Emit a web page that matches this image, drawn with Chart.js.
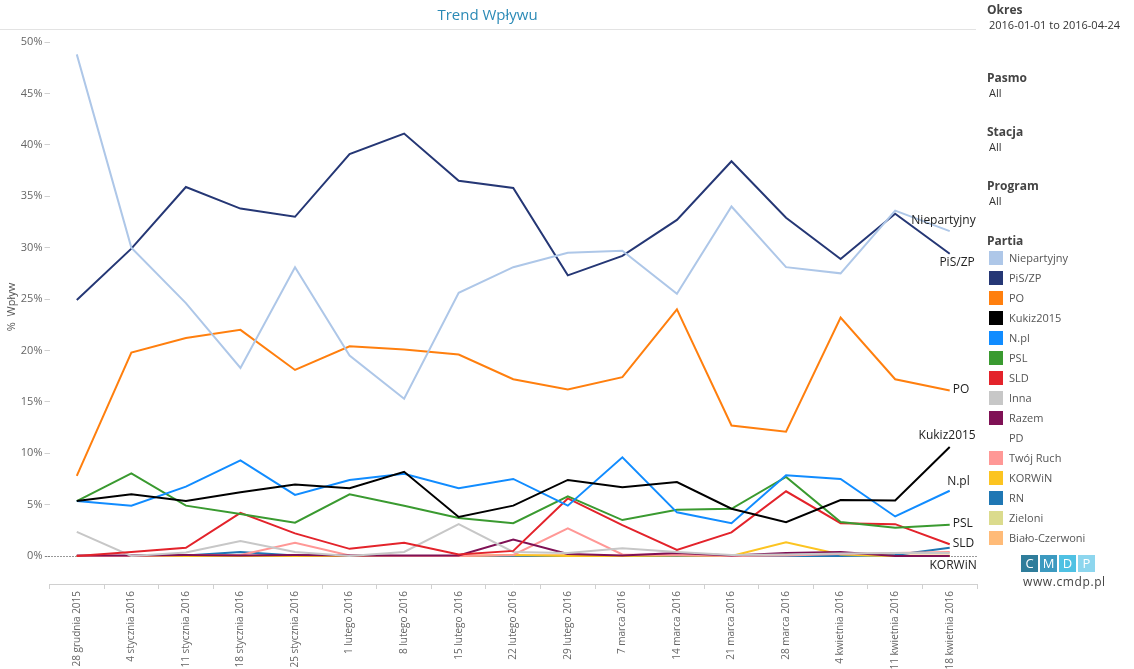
<!DOCTYPE html>
<html>
<head>
<meta charset="utf-8">
<script src="https://cdn.jsdelivr.net/npm/chart.js@4.4.0/dist/chart.umd.min.js"></script>
<style>
  html, body { margin: 0; padding: 0; background: #fff; }
  body { width: 1134px; height: 669px; position: relative; overflow: hidden; font-family: "Open Sans", "Noto Sans", sans-serif; }
  #wrap { position: absolute; left: 0; top: 0; width: 980px; height: 669px; }
  #title { position: absolute; left: 0; width: 975px; top: 4px; text-align: center; font-size: 15px; color: #2b8ab6; }
  #rule { position: absolute; left: 0; top: 29px; width: 976px; height: 1px; background: #e3e3e3; }
  #panel { position: absolute; left: 987px; top: 0; width: 147px; color: #444; }
  .h { position: absolute; left: 0; font-size: 12px; font-weight: bold; color: #444; }
  .v { position: absolute; left: 2px; font-size: 11px; color: #333; }
  .li { position: absolute; left: 2px; height: 14px; font-size: 11px; color: #555; white-space: nowrap; }
  .sw { position: absolute; left: 0; top: 0; width: 14px; height: 14px; }
  .lt { position: absolute; left: 20px; top: -2px; line-height: 17px; }
  #logo { position: absolute; left: 34px; top: 555px; }
  .lb { position: absolute; top: 0; width: 17px; height: 17px; color: #fff; font-size: 13px; line-height: 17px; text-align: center; }
  #url { position: absolute; left: 36px; top: 573px; font-size: 12px; color: #444; letter-spacing: 0.6px; }
</style>
</head>
<body>
<div id="wrap"><canvas id="c" width="980" height="669"></canvas></div>
<div id="title">Trend Wpływu</div>
<div id="rule"></div>
<div id="panel">
  <div class="h" style="top:1px">Okres</div>
  <div class="v" style="top:17px">2016-01-01 to 2016-04-24</div>
  <div class="h" style="top:69px">Pasmo</div>
  <div class="v" style="top:85px">All</div>
  <div class="h" style="top:123px">Stacja</div>
  <div class="v" style="top:139px">All</div>
  <div class="h" style="top:177px">Program</div>
  <div class="v" style="top:193px">All</div>
  <div class="h" style="top:232px">Partia</div>
  <div id="legend"></div>
  <div id="logo">
    <div class="lb" style="left:0;background:#2f7d9b">C</div>
    <div class="lb" style="left:19px;background:#3c9ac0">M</div>
    <div class="lb" style="left:38px;background:#4fc1e3">D</div>
    <div class="lb" style="left:57px;background:#8dd6ee">P</div>
  </div>
  <div id="url">www.cmdp.pl</div>
</div>
<script>
const categories = ["28 grudnia 2015","4 stycznia 2016","11 stycznia 2016","18 stycznia 2016","25 stycznia 2016","1 lutego 2016","8 lutego 2016","15 lutego 2016","22 lutego 2016","29 lutego 2016","7 marca 2016","14 marca 2016","21 marca 2016","28 marca 2016","4 kwietnia 2016","11 kwietnia 2016","18 kwietnia 2016"];
const yTicks = [0, 5, 10, 15, 20, 25, 30, 35, 40, 45, 50];

const seriesNames = ["Niepartyjny","PiS/ZP","PO","Kukiz2015","N.pl","PSL","SLD","Inna","Razem","PD","Twój Ruch","KORWiN","RN","Zieloni","Biało-Czerwoni"];
const seriesColors = ["#aec7e8","#253775","#ff7f0e","#000000","#118cff","#3a9a30","#e3232b","#c7c7c7","#7f1155","rgba(255,255,255,0)","#ff9896","#fcc421","#1f77b4","#dbdb8d","#ffbb78"];

const niepartyjny = [48.8, 30.0, 24.6, 18.3, 28.1, 19.5, 15.3, 25.6, 28.1, 29.5, 29.7, 25.5, 34.0, 28.1, 27.5, 33.6, 31.6];
const pisZp       = [24.9, 29.9, 35.9, 33.8, 33.0, 39.1, 41.1, 36.5, 35.8, 27.3, 29.2, 32.7, 38.4, 32.9, 28.9, 33.3, 29.4];
const po          = [7.8, 19.8, 21.2, 22.0, 18.1, 20.4, 20.1, 19.6, 17.2, 16.2, 17.4, 24.0, 12.7, 12.1, 23.2, 17.2, 16.1];
const kukiz2015   = [5.35, 6.0, 5.35, 6.2, 6.95, 6.6, 8.2, 3.8, 4.9, 7.4, 6.7, 7.2, 4.6, 3.3, 5.45, 5.4, 10.6];
const npl         = [5.35, 4.9, 6.75, 9.3, 5.95, 7.4, 8.0, 6.6, 7.5, 4.9, 9.6, 4.25, 3.2, 7.85, 7.5, 3.85, 6.35];
const psl         = [5.35, 8.05, 4.9, 4.1, 3.25, 6.0, 4.9, 3.7, 3.2, 5.8, 3.5, 4.5, 4.6, 7.7, 3.3, 2.75, 3.05];
const sld         = [0, 0.4, 0.8, 4.2, 2.2, 0.7, 1.3, 0.15, 0.5, 5.6, 3.0, 0.6, 2.3, 6.3, 3.2, 3.1, 1.15];
const inna        = [2.35, 0, 0.35, 1.45, 0.4, 0, 0.4, 3.1, 0.4, 0.3, 0.75, 0.4, 0.1, 0.15, 0.25, 0.3, 0.3];
const razem       = [0.05, 0.05, 0.1, 0.05, 0.1, 0.05, 0.05, 0.05, 1.6, 0.2, 0.05, 0.3, 0.05, 0.3, 0.4, 0, 0];
const pd          = [0, 0, 0, 0, 0, 0, 0, 0, 0, 0, 0, 0, 0, 0, 0, 0, 0];
const twojRuch    = [0, 0, 0.1, 0.1, 1.3, 0.05, 0, 0, 0.1, 2.7, 0.15, 0.1, 0, 0.05, 0.2, 0.3, 0.4];
const korwin      = [0, 0, 0, 0, 0, 0, 0, 0, 0.1, 0, 0, 0.05, 0, 1.35, 0.15, 0, 0];
const rn          = [0, 0, 0.05, 0.4, 0.05, 0, 0, 0, 0, 0, 0, 0, 0, 0, 0, 0.1, 0.8];
const zieloni     = [0, 0, 0, 0, 0, 0, 0, 0, 0, 0, 0, 0, 0, 0, 0, 0, 0];
const bialoCzerwoni = [0, 0, 0.05, 0, 0.05, 0, 0, 0, 0.05, 0.1, 0, 0, 0, 0, 0.05, 0.05, 0.05];

const seriesData = [niepartyjny, pisZp, po, kukiz2015, npl, psl, sld, inna, razem, pd, twojRuch, korwin, rn, zieloni, bialoCzerwoni];

// end-of-line label placement (style only)
const endLabels = {
  "Niepartyjny": {dx: 26, dy: -11, align: "right"},
  "PiS/ZP":      {dx: 25, dy: 9,   align: "right"},
  "PO":          {dx: 3,  dy: -1,  align: "left"},
  "Kukiz2015":   {dx: 26, dy: -11, align: "right"},
  "N.pl":        {dx: 20, dy: -9,  align: "right"},
  "PSL":         {dx: 3,  dy: -1,  align: "left"},
  "SLD":         {dx: 3,  dy: -1,  align: "left"},
  "KORWiN":      {dx: 27, dy: 10,  align: "right"}
};

// HTML legend
const leg = document.getElementById('legend');
seriesNames.forEach((n, i) => {
  const d = document.createElement('div');
  d.className = 'li';
  d.style.top = (251 + i * 20) + 'px';
  d.innerHTML = '<div class="sw" style="background:' + seriesColors[i] + '"></div><div class="lt">' + n + '</div>';
  leg.appendChild(d);
});

const zeroLine = {
  id: 'zeroLine',
  beforeDatasetsDraw(chart) {
    const y = Math.round(chart.scales.y.getPixelForValue(0)) + 0.5;
    const a = chart.chartArea;
    const ctx = chart.ctx;
    ctx.save();
    ctx.strokeStyle = '#333';
    ctx.lineWidth = 1;
    ctx.setLineDash([1, 2]);
    ctx.beginPath();
    ctx.moveTo(a.left - 4, y);
    ctx.lineTo(a.right, y);
    ctx.stroke();
    ctx.restore();
  }
};

const endLabelPlugin = {
  id: 'endLabels',
  afterDatasetsDraw(chart) {
    const ctx = chart.ctx;
    ctx.save();
    ctx.font = '12px "Open Sans", sans-serif';
    ctx.fillStyle = '#222';
    ctx.textBaseline = 'middle';
    chart.data.datasets.forEach((ds, i) => {
      const cfg = endLabels[ds.label];
      if (!cfg) return;
      const meta = chart.getDatasetMeta(i);
      const pt = meta.data[meta.data.length - 1];
      ctx.textAlign = cfg.align;
      ctx.fillText(ds.label, pt.x + cfg.dx, pt.y + cfg.dy);
    });
    ctx.restore();
  }
};

const datasets = seriesNames.map((n, i) => ({
  label: n,
  data: seriesData[i],
  borderColor: seriesColors[i],
  backgroundColor: seriesColors[i],
  borderWidth: 2,
  pointRadius: 0,
  pointHoverRadius: 0,
  tension: 0,
  fill: false
}));

new Chart(document.getElementById('c'), {
  type: 'line',
  data: { labels: categories, datasets: datasets },
  plugins: [zeroLine, endLabelPlugin],
  options: {
    responsive: false,
    animation: false,
    events: [],
    layout: { padding: { left: 0, right: 3, top: 30, bottom: 0 } },
    plugins: { legend: { display: false }, tooltip: { enabled: false }, title: { display: false } },
    scales: {
      x: {
        type: 'category',
        offset: true,
        grid: { offset: true, drawOnChartArea: false, drawTicks: true, tickLength: 5, color: '#d0d0d0' },
        border: { display: true, color: '#d0d0d0' },
        ticks: { minRotation: 90, maxRotation: 90, autoSkip: false, padding: 2, color: '#666', font: { family: '"Open Sans", sans-serif', size: 10 } },
        afterFit(s) { s.height = 85; }
      },
      y: {
        min: -2.72,
        max: 51.17,
        afterBuildTicks(s) { s.ticks = yTicks.map(v => ({ value: v })); },
        grid: { drawOnChartArea: false, drawTicks: true, tickLength: 5, color: '#d0d0d0' },
        border: { display: false },
        ticks: { padding: 2, color: '#666', font: { family: '"Open Sans", sans-serif', size: 11 }, callback: v => v + '%' },
        title: { display: true, text: '%  Wpływ', color: '#555', font: { family: '"Open Sans", sans-serif', size: 11 }, padding: { top: 5, bottom: 0 } },
        afterFit(s) { s.width = 49.5; }
      }
    }
  }
});
</script>
</body>
</html>
